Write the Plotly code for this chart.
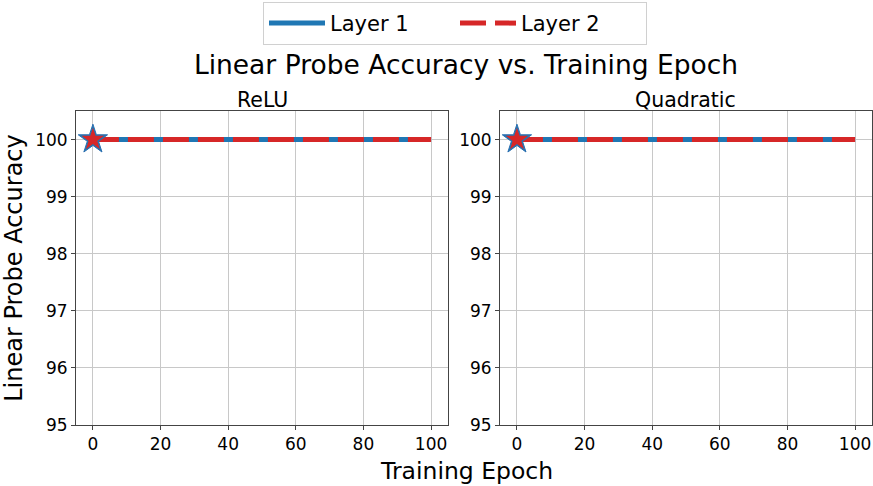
import plotly.graph_objects as go
from plotly.subplots import make_subplots

epochs = [0, 10, 20, 30, 40, 50, 60, 70, 80, 90, 100]
relu_layer1 = [100, 100, 100, 100, 100, 100, 100, 100, 100, 100, 100]
relu_layer2 = [100, 100, 100, 100, 100, 100, 100, 100, 100, 100, 100]
quad_layer1 = [100, 100, 100, 100, 100, 100, 100, 100, 100, 100, 100]
quad_layer2 = [100, 100, 100, 100, 100, 100, 100, 100, 100, 100, 100]
subplot_titles = ["ReLU", "Quadratic"]
xticks = [0, 20, 40, 60, 80, 100]
yticks = [95, 96, 97, 98, 99, 100]

BLUE = "#1f77b4"
RED = "#d62728"
FONT = "DejaVu Sans"

fig = make_subplots(rows=1, cols=2)

panels = [(relu_layer1, relu_layer2), (quad_layer1, quad_layer2)]
for i, (l1, l2) in enumerate(panels, start=1):
    fig.add_trace(go.Scatter(x=epochs, y=l1, mode="lines", name="Layer 1",
                             line=dict(color=BLUE, width=5), showlegend=(i == 1)),
                  row=1, col=i)
    fig.add_trace(go.Scatter(x=epochs, y=l2, mode="lines", name="Layer 2",
                             line=dict(color=RED, width=5, dash="26px,9px"),
                             showlegend=(i == 1)),
                  row=1, col=i)
    fig.add_trace(go.Scatter(x=[epochs[0]], y=[l1[0]], mode="markers", showlegend=False,
                             marker=dict(symbol="star", size=22, color=BLUE,
                                         line=dict(color="#2a6fb0", width=1))),
                  row=1, col=i)
    fig.add_trace(go.Scatter(x=[epochs[0]], y=[l2[0]], mode="markers", showlegend=False,
                             marker=dict(symbol="star", size=17, color=RED,
                                         line=dict(width=0))),
                  row=1, col=i)

axis_common = dict(showline=True, linecolor="#444", linewidth=1, mirror=True,
                   showgrid=True, gridcolor="#c8c8c8", gridwidth=1, zeroline=False,
                   ticks="outside", ticklen=4, tickcolor="#444", automargin=False,
                   tickfont=dict(family=FONT, size=17, color="black"))
fig.update_xaxes(range=[-5, 105], tickvals=xticks, domain=[0.0, 0.4673], row=1, col=1, **axis_common)
fig.update_xaxes(range=[-5, 105], tickvals=xticks, domain=[0.5327, 1.0], row=1, col=2, **axis_common)
for c in (1, 2):
    fig.update_yaxes(range=[95, 100.5], tickvals=yticks, row=1, col=c, **axis_common)

fig.update_yaxes(title=dict(text="Linear Probe Accuracy", font=dict(family=FONT, size=24, color="black"),
                            standoff=10), row=1, col=1)

fig.update_layout(
    width=873, height=486,
    margin=dict(l=76, r=1, t=111, b=61),
    plot_bgcolor="white", paper_bgcolor="white",
    font=dict(family=FONT, color="black"),
    title=dict(text="Linear Probe Accuracy vs. Training Epoch", x=466 / 873, xanchor="center",
               y=0.866, yanchor="middle", font=dict(family=FONT, size=26.5, color="black")),
    legend=dict(orientation="h", x=263 / 873, xanchor="left", xref="container",
                y=0.996, yanchor="top", yref="container",
                bordercolor="#d0d0d0", borderwidth=1,
                font=dict(family=FONT, size=21, color="black"),
                itemwidth=56, entrywidthmode="pixels", entrywidth=120),
    annotations=[
        dict(text=subplot_titles[0], x=0.2337, y=1.0, xref="paper", yref="paper",
             xanchor="center", yanchor="bottom", yshift=-3, showarrow=False,
             font=dict(family=FONT, size=20.5)),
        dict(text=subplot_titles[1], x=0.7663, y=1.0, xref="paper", yref="paper",
             xanchor="center", yanchor="bottom", yshift=-3, showarrow=False,
             font=dict(family=FONT, size=20.5)),
        dict(text="Training Epoch", x=(466 - 76) / 796, y=-0.148, xref="paper", yref="paper",
             xanchor="center", yanchor="middle", showarrow=False, font=dict(family=FONT, size=23.5)),
    ],
)

fig.write_html("out.html", config={"displayModeBar": False},
               post_script="document.body.style.margin='0';document.body.style.overflow='hidden';")
